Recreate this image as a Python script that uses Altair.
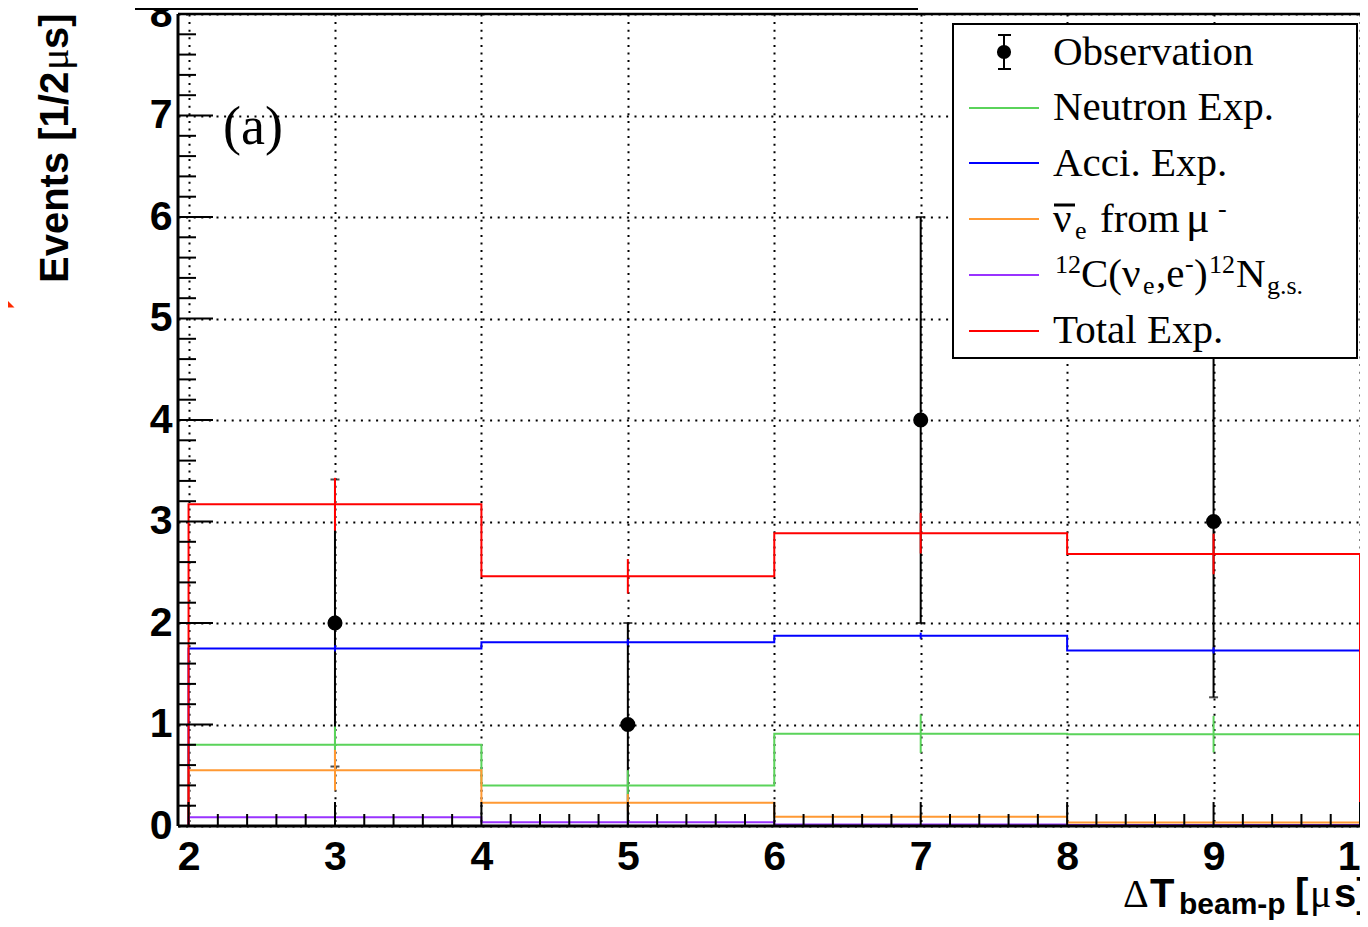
import altair as alt
import pandas as pd

# ---------------- data ----------------
bin_edges = [2, 4, 6, 8, 10]
bin_centers = [3, 5, 7, 9]

obs_counts = [2, 1, 4, 3]
obs_err_low = [0.586, 0.0, 2.0, 1.268]
obs_err_high = [3.414, 2.0, 6.0, 4.732]

neutron_exp = [0.80, 0.40, 0.91, 0.905]
neutron_err = [0.18, 0.15, 0.19, 0.18]
acci_exp = [1.75, 1.81, 1.875, 1.73]
acci_err = [0.03, 0.03, 0.03, 0.03]
nuebar_exp = [0.55, 0.23, 0.09, 0.035]
nuebar_err = [0.20, 0.085, 0.03, 0.015]
c12_exp = [0.085, 0.036, 0.016, 0.010]
c12_err = [0.01, 0.006, 0.003, 0.002]
total_exp = [3.17, 2.46, 2.885, 2.68]
total_err = [0.26, 0.17, 0.20, 0.20]

series_names = ["Neutron Exp.", "Acci. Exp.", "nuebar from mu-", "12C(nue,e-)12N g.s.", "Total Exp."]
series_values = [neutron_exp, acci_exp, nuebar_exp, c12_exp, total_exp]
series_errors = [neutron_err, acci_err, nuebar_err, c12_err, total_err]
series_colors = ["#5ad35a", "#0000ff", "#ff9933", "#9933ff", "#ff0000"]

x_tick_labels = [2, 3, 4, 5, 6, 7, 8, 9, 10]
y_tick_labels = [0, 1, 2, 3, 4, 5, 6, 7, 8]

# ---------------- layout / style ----------------
SANS = "Liberation Sans"
SERIF = "Liberation Serif"
W, H = 1182, 812
ONE = pd.DataFrame({"k": [0]})

xs = alt.Scale(domain=[1.928, 10.0], nice=False, zero=False)
ys = alt.Scale(domain=[0, 8], nice=False, zero=False)
GRID = dict(grid=True, gridColor="black", gridDash=[2, 5.6], gridWidth=2, gridOpacity=1)
xaxis = alt.Axis(values=x_tick_labels, format="d", title=None, ticks=False, tickSize=0, domain=False,
                 labelFont=SANS, labelFontWeight="bold", labelFontSize=41, labelColor="black",
                 labelPadding=11, labelFlush=False, labelOverlap=False, **GRID)
yaxis = alt.Axis(values=y_tick_labels, format="d", title=None, ticks=False, tickSize=0, domain=False,
                 labelFont=SANS, labelFontWeight="bold", labelFontSize=41, labelColor="black",
                 labelPadding=6, labelFlush=False, labelOverlap=False, **GRID)


def X(f):
    return alt.X(f, type="quantitative", scale=xs, axis=xaxis)


def Y(f):
    return alt.Y(f, type="quantitative", scale=ys, axis=yaxis)


def txt(s, x, y, size, font=SERIF, weight="normal", angle=0, align="left"):
    return alt.Chart(ONE).mark_text(text=s, font=font, fontSize=size, fontWeight=weight,
                                    angle=angle, align=align, baseline="alphabetic",
                                    color="black").encode(x=alt.value(x), y=alt.value(y))


def hrule(x1, x2, y, width=2, color="black"):
    return alt.Chart(ONE).mark_rule(color=color, strokeWidth=width).encode(
        x=alt.value(x1), x2=alt.value(x2), y=alt.value(y))


def vrule(x, y1, y2, width=2, color="black"):
    return alt.Chart(ONE).mark_rule(color=color, strokeWidth=width).encode(
        x=alt.value(x), y=alt.value(y1), y2=alt.value(y2))


layers = []

# ---------------- observation ----------------
obs = pd.DataFrame({"c": bin_centers, "v": obs_counts, "lo": obs_err_low, "hi": obs_err_high})
layers.append(alt.Chart(obs).mark_rule(color="black", strokeWidth=2).encode(
    x=X("c"), y=Y("lo"), y2=alt.Y2("hi")))
layers.append(alt.Chart(obs).mark_tick(orient="horizontal", size=9, thickness=2, color="black").encode(
    x=X("c"), y=Y("lo")))
layers.append(alt.Chart(obs).mark_tick(orient="horizontal", size=9, thickness=2, color="black").encode(
    x=X("c"), y=Y("hi")))
layers.append(alt.Chart(obs).mark_circle(size=227, color="black", opacity=1).encode(
    x=X("c"), y=Y("v")))

# ---------------- expectation histograms ----------------
for vals, errs, col in zip(series_values, series_errors, series_colors):
    px, py = [bin_edges[0]], [0.0]
    for i, v in enumerate(vals):
        px += [bin_edges[i], bin_edges[i + 1]]
        py += [v, v]
    px.append(bin_edges[-1])
    py.append(0.0)
    step = pd.DataFrame({"x": px, "y": py, "i": list(range(len(px)))})
    layers.append(alt.Chart(step).mark_line(color=col, strokeWidth=2, interpolate="linear").encode(
        x=X("x"), y=Y("y"), order=alt.Order("i:Q")))
    err = pd.DataFrame({"c": bin_centers,
                        "lo": [v - e for v, e in zip(vals, errs)],
                        "hi": [v + e for v, e in zip(vals, errs)]})
    layers.append(alt.Chart(err).mark_rule(color=col, strokeWidth=2).encode(
        x=X("c"), y=Y("lo"), y2=alt.Y2("hi")))

# ---------------- frame and ticks ----------------
y_minor = [round(i * 0.2, 1) for i in range(41) if i % 5]
x_minor = [round(2 + i * 0.2, 1) for i in range(41) if i % 5]
layers.append(alt.Chart(pd.DataFrame({"v": y_tick_labels})).mark_rule(color="black", strokeWidth=2).encode(
    y=Y("v"), x=alt.value(0), x2=alt.value(35)))
layers.append(alt.Chart(pd.DataFrame({"v": y_minor})).mark_rule(color="black", strokeWidth=2).encode(
    y=Y("v"), x=alt.value(0), x2=alt.value(18)))
layers.append(alt.Chart(pd.DataFrame({"v": x_tick_labels})).mark_rule(color="black", strokeWidth=2).encode(
    x=X("v"), y=alt.value(H), y2=alt.value(H - 24)))
layers.append(alt.Chart(pd.DataFrame({"v": x_minor})).mark_rule(color="black", strokeWidth=2).encode(
    x=X("v"), y=alt.value(H), y2=alt.value(H - 12)))
layers.append(vrule(0, 0, H, width=3))
layers.append(hrule(0, W + 8, H, width=3))
layers.append(hrule(0, W + 8, 0, width=2.5))

# ---------------- legend ----------------
layers.append(alt.Chart(ONE).mark_rect(fill="white", stroke="black", strokeWidth=2).encode(
    x=alt.value(775), x2=alt.value(1179), y=alt.value(10), y2=alt.value(344)))
leg_rows = [94, 149, 205, 261, 317]
for yy, col in zip(leg_rows, series_colors):
    layers.append(hrule(791, 861, yy, width=2, color=col))
layers.append(vrule(826, 21, 55, width=2))
layers.append(hrule(820, 833, 21, width=2))
layers.append(hrule(820, 833, 55, width=2))
layers.append(alt.Chart(ONE).mark_circle(size=200, color="black", opacity=1).encode(
    x=alt.value(826), y=alt.value(38)))

LX = 875
LF = 41
SF = 26
layers.append(txt("Observation", LX, 51, LF))
layers.append(txt("Neutron Exp.", LX, 106, LF))
layers.append(txt("Acci. Exp.", LX, 162, LF))
# nu-bar_e from mu-
layers.append(txt("ν", LX, 218, LF))
layers.append(hrule(876, 897, 191, width=3))
layers.append(txt("e", 897, 225, SF))
layers.append(txt("from", 922, 218, LF))
layers.append(txt("μ", 1008, 218, 44))
layers.append(txt("-", 1040, 203, SF))
# 12C(nu_e,e-)12N g.s.
layers.append(txt("12", 877, 259, SF))
layers.append(txt("C(ν", 903, 273, LF))
layers.append(txt("e", 965, 280, SF))
layers.append(txt(",e", 978, 273, LF))
layers.append(txt("-", 1007, 258, SF))
layers.append(txt(")", 1016, 273, LF))
layers.append(txt("12", 1031, 259, SF))
layers.append(txt("N", 1058, 273, LF))
layers.append(txt("g.s.", 1089, 280, SF))
layers.append(txt("Total Exp.", LX, 329, LF))

# ---------------- titles ----------------
layers.append(txt("(a)", 45, 130, 54))
layers.append(txt("Δ", 945, 893, 40))
layers.append(txt("T", 972, 893, 40, font=SANS, weight="bold"))
layers.append(txt("beam-p", 1001, 900, 30, font=SANS, weight="bold"))
layers.append(txt("[", 1117, 893, 40, font=SANS, weight="bold"))
layers.append(txt("μ", 1132, 893, 40))
layers.append(txt("s]", 1156, 893, 40, font=SANS, weight="bold"))
layers.append(txt("Events [1/2", -110, 269, 40, font=SANS, weight="bold", angle=270))
layers.append(txt("μ", -110, 56, 40, angle=270))
layers.append(txt("s]", -110, 35, 40, font=SANS, weight="bold", angle=270))

# ---------------- neighbouring-panel fragments ----------------
layers.append(alt.Chart(ONE).mark_rect(fill="#00ffff", fillOpacity=0.5, stroke="black", strokeWidth=2).encode(
    x=alt.value(-42), x2=alt.value(739), y=alt.value(-30), y2=alt.value(-5)))
layers.append(alt.Chart(ONE).mark_rect(fill="#00ffff", fillOpacity=0.5, stroke="black", strokeWidth=2).encode(
    x=alt.value(-32), x2=alt.value(513), y=alt.value(908), y2=alt.value(935)))
layers.append(alt.Chart(ONE).mark_point(shape="M -1 -1 L -1 1 L 1 1 Z", filled=True, fill="#ff2a00",
                                        opacity=1, size=225, strokeWidth=0).encode(
    x=alt.value(-171), y=alt.value(286)))

chart = alt.layer(*layers).properties(
    width=W, height=H,
    padding={"left": 170, "top": 6, "right": 0, "bottom": 94},
    autosize=alt.AutoSizeParams(type="none"),
    background="white",
).configure_view(strokeWidth=0)

chart.save("out.html", embed_options={"renderer": "svg", "actions": False})
